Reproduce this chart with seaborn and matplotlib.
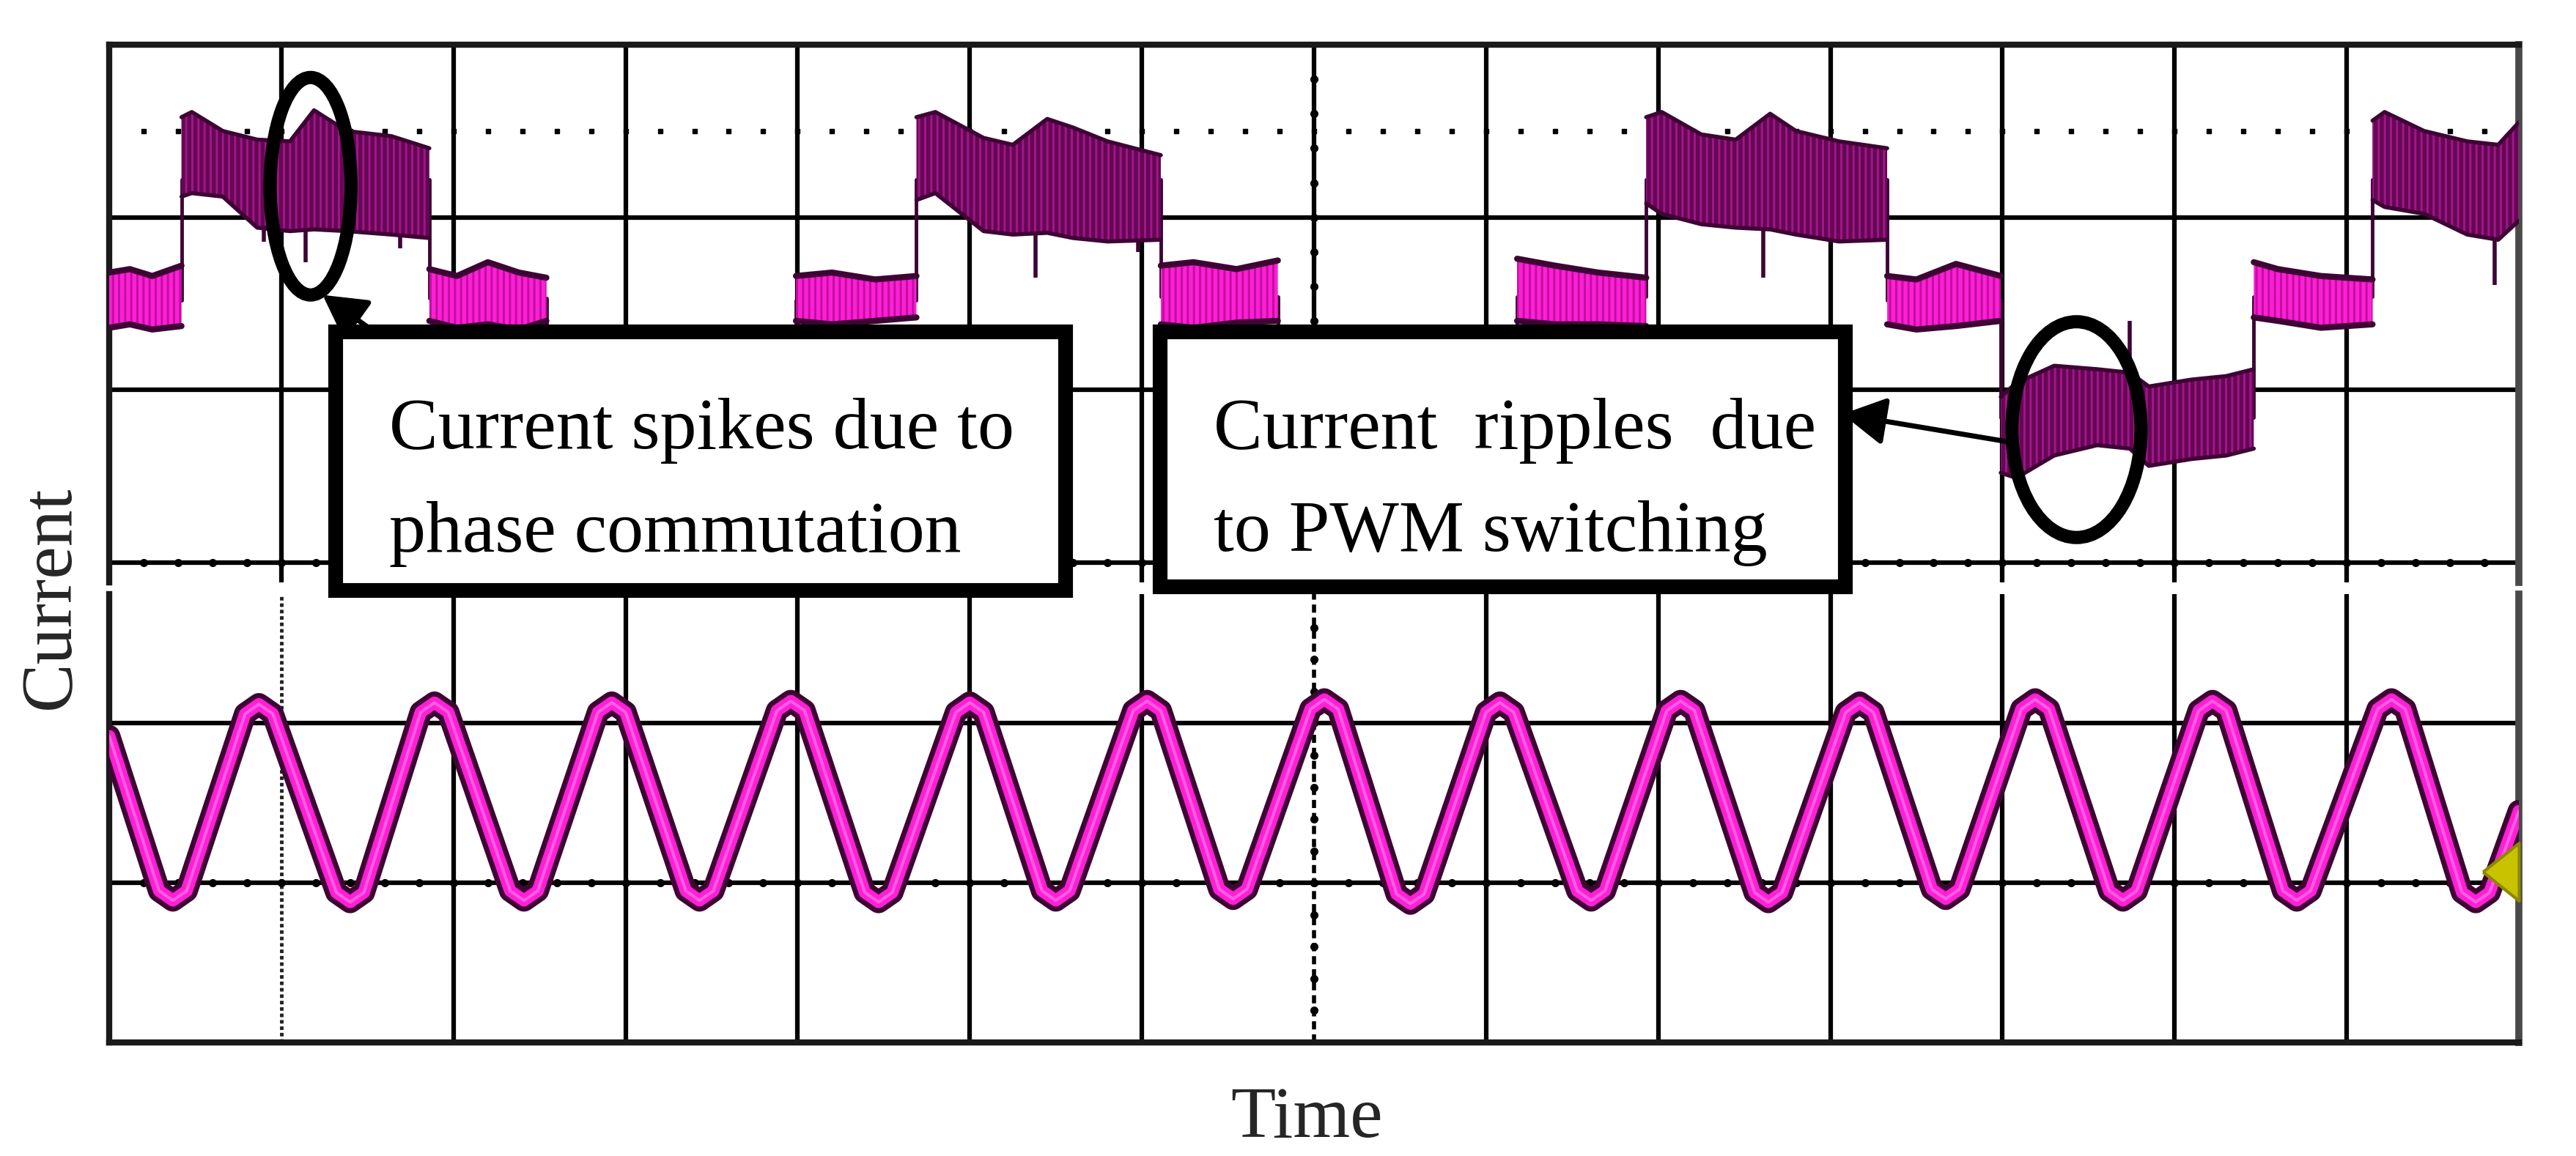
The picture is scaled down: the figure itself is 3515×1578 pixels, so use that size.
import numpy as np
import pandas as pd
import seaborn as sns
import matplotlib.pyplot as plt
from matplotlib.patches import Ellipse, Rectangle

# upper channel: six-step phase current, one entry per flat segment
seg_kind = ['mid', 'high', 'mid', 'low', 'mid', 'high', 'mid',
            'low', 'mid', 'high', 'mid', 'low', 'mid', 'high']
seg_level = [1.52, 2.22, 1.53, 0.83, 1.52, 2.22, 1.54,
             0.83, 1.54, 2.22, 1.52, 0.84, 1.54, 2.22]
seg_x = [
    [0.00, 0.12, 0.25, 0.42],
    [0.42, 0.48, 0.66, 0.86, 1.05, 1.19, 1.38, 1.64, 1.86],
    [1.86, 2.02, 2.20, 2.38, 2.54],
    [2.54, 3.25, 3.99],
    [3.99, 4.20, 4.45, 4.69],
    [4.69, 4.80, 5.08, 5.25, 5.45, 5.60, 5.80, 6.11],
    [6.11, 6.30, 6.55, 6.79],
    [6.79, 7.50, 8.18],
    [8.18, 8.40, 8.65, 8.93],
    [8.93, 9.02, 9.25, 9.45, 9.65, 9.80, 10.05, 10.33],
    [10.33, 10.50, 10.73, 10.99],
    [10.99, 11.08, 11.30, 11.55, 11.74, 11.85, 12.10, 12.30, 12.46],
    [12.46, 12.60, 12.85, 13.15],
    [13.15, 13.22, 13.45, 13.70, 13.88, 14.00],
]
seg_upper = [
    [1.68, 1.70, 1.66, 1.72],
    [2.58, 2.61, 2.50, 2.45, 2.44, 2.62, 2.50, 2.47, 2.40],
    [1.70, 1.66, 1.74, 1.68, 1.65],
    [1.10, 1.05, 1.02],
    [1.66, 1.68, 1.64, 1.66],
    [2.58, 2.61, 2.46, 2.42, 2.57, 2.52, 2.44, 2.36],
    [1.72, 1.74, 1.70, 1.75],
    [1.10, 1.05, 1.02],
    [1.76, 1.72, 1.68, 1.65],
    [2.58, 2.61, 2.48, 2.45, 2.60, 2.50, 2.44, 2.40],
    [1.66, 1.64, 1.73, 1.66],
    [0.96, 1.04, 1.14, 1.12, 1.10, 1.02, 1.06, 1.08, 1.12],
    [1.74, 1.70, 1.66, 1.64],
    [2.56, 2.61, 2.50, 2.44, 2.42, 2.55],
]
seg_lower = [
    [1.36, 1.38, 1.35, 1.37],
    [2.12, 2.14, 2.12, 1.94, 1.92, 1.93, 1.92, 1.90, 1.88],
    [1.40, 1.36, 1.38, 1.35, 1.40],
    [0.55, 0.60, 0.58],
    [1.40, 1.38, 1.40, 1.42],
    [2.10, 2.14, 1.92, 1.90, 1.91, 1.88, 1.86, 1.87],
    [1.38, 1.36, 1.39, 1.40],
    [0.55, 0.60, 0.58],
    [1.40, 1.38, 1.38, 1.37],
    [2.08, 2.02, 1.96, 1.94, 1.93, 1.90, 1.86, 1.87],
    [1.38, 1.35, 1.37, 1.40],
    [0.52, 0.49, 0.62, 0.68, 0.66, 0.56, 0.60, 0.62, 0.66],
    [1.42, 1.40, 1.36, 1.38],
    [2.10, 2.06, 2.02, 1.90, 1.87, 1.98],
]

# commutation spikes (x, start of spike, tip of spike)
spike_x = [0.90, 1.14, 1.69, 5.38, 5.98, 9.61, 11.74, 13.86]
spike_from = [1.95, 1.94, 1.90, 1.91, 1.87, 1.92, 1.10, 1.87]
spike_to = [1.86, 1.74, 1.82, 1.65, 1.80, 1.65, 1.40, 1.61]

# lower channel: sinusoidal current (troughs / peaks with their shoulders)
wave_x = [0.00,
          0.29, 0.37, 0.45, 0.79, 0.87, 0.95,
          1.32, 1.40, 1.48, 1.81, 1.89, 1.97,
          2.33, 2.41, 2.49, 2.84, 2.92, 3.00,
          3.35, 3.43, 3.51, 3.88, 3.96, 4.04,
          4.39, 4.47, 4.55, 4.92, 5.00, 5.08,
          5.42, 5.50, 5.58, 5.95, 6.03, 6.11,
          6.45, 6.53, 6.61, 6.98, 7.06, 7.14,
          7.48, 7.56, 7.64, 8.00, 8.08, 8.16,
          8.53, 8.61, 8.69, 9.05, 9.13, 9.21,
          9.56, 9.64, 9.72, 10.09, 10.17, 10.25,
          10.59, 10.67, 10.75, 11.11, 11.19, 11.27,
          11.62, 11.70, 11.78, 12.14, 12.22, 12.30,
          12.63, 12.71, 12.79, 13.18, 13.26, 13.34,
          13.67, 13.75, 13.83, 14.00]
wave_y = [1.92,
          0.95, 0.89, 0.95, 2.06, 2.12, 2.06,
          0.94, 0.88, 0.94, 2.07, 2.13, 2.07,
          0.95, 0.89, 0.95, 2.07, 2.13, 2.07,
          0.95, 0.89, 0.95, 2.08, 2.14, 2.08,
          0.94, 0.88, 0.94, 2.07, 2.13, 2.07,
          0.95, 0.89, 0.95, 2.08, 2.14, 2.08,
          0.96, 0.90, 0.96, 2.09, 2.15, 2.09,
          0.93, 0.87, 0.93, 2.07, 2.13, 2.07,
          0.95, 0.89, 0.95, 2.08, 2.14, 2.08,
          0.94, 0.88, 0.94, 2.07, 2.13, 2.07,
          0.96, 0.90, 0.96, 2.09, 2.15, 2.09,
          0.95, 0.89, 0.95, 2.08, 2.14, 2.08,
          0.95, 0.89, 0.95, 2.09, 2.15, 2.09,
          0.94, 0.88, 0.94, 1.45]

# ground reference marker of the lower channel
ref_level = 1.07

# ---- styling ----
DARK = '#3e0534'
PLUM = '#620952'
STREAK = '#a3138a'
MAG = '#ff1fd6'
MAG_DARK = '#c0109f'

sns.set_theme(style="white")
plt.rcParams['font.family'] = ['Liberation Serif', 'DejaVu Serif']
plt.rcParams['hatch.linewidth'] = 2.2

W, H = 3515, 1578
fig = plt.figure(figsize=(W / 100, H / 100), dpi=100)
fig.patch.set_facecolor('white')


def frac(x0, y0, x1, y1):
    # pixel box (top-left origin) -> figure fraction rect
    return [x0 / W, 1 - y1 / H, (x1 - x0) / W, (y1 - y0) / H]


ax_top = fig.add_axes(frac(149, 61, 3437, 795))
ax_bot = fig.add_axes(frac(149, 811, 3437, 1423))
ax_top.set_xlim(0, 14)
ax_top.set_ylim(-0.115, 3)
ax_bot.set_xlim(0, 14)
ax_bot.set_ylim(0, 2.81)

for ax in (ax_top, ax_bot):
    ax.set_xticks([])
    ax.set_yticks([])
    ax.set_facecolor('white')
    for side in ('left', 'right', 'top', 'bottom'):
        ax.spines[side].set_color('#1a1a1a')
        ax.spines[side].set_linewidth(6)
    ax.spines['right'].set_color('#4a4a4a')
    ax.spines['right'].set_linewidth(7)
ax_top.spines['bottom'].set_visible(False)
ax_bot.spines['top'].set_visible(False)

# graticule
grid_kw = dict(color='black', lw=4.5, zorder=1)
minor = np.arange(0.2, 14.0, 0.2)
for x in range(1, 14):
    ax_top.axvline(x, **grid_kw)
    if x == 1:
        ax_bot.axvline(x, color='#222222', lw=3.5, ls=(0, (1, 0.8)), zorder=1)
    elif x == 7:
        ax_bot.axvline(x, color='black', lw=4, ls=(0, (2, 1.2)), zorder=1)
    else:
        ax_bot.axvline(x, **grid_kw)
for y in (0, 1, 2):
    ax_top.axhline(y, **grid_kw)
for y in (1, 2):
    ax_bot.axhline(y, **grid_kw)

ax_top.plot(minor, np.zeros_like(minor), 'o', ms=7, color='black', zorder=1.5)
ax_bot.plot(minor, np.ones_like(minor), 'o', ms=7, color='black', zorder=1.5)
ax_top.plot(minor, np.full_like(minor, 2.5), 's', ms=5, color='black', zorder=1.5)
ax_top.plot(np.full(14, 7.0), np.arange(0.2, 2.9, 0.2), 'o', ms=7, color='black', zorder=1.5)
ax_bot.plot(np.full(13, 7.0), np.arange(0.2, 2.7, 0.2), 'o', ms=7, color='black', zorder=1.5)

# ---- upper channel trace ----
cx, cy = [], []
for xs, lev in zip(seg_x, seg_level):
    cx += [xs[0], xs[-1]]
    cy += [lev, lev]
sns.lineplot(x=cx, y=cy, ax=ax_top, color=DARK, lw=3.5,
             estimator=None, sort=False, zorder=2.9)

for xs, up, lo, kind in zip(seg_x, seg_upper, seg_lower, seg_kind):
    if kind == 'mid':
        ax_top.fill_between(xs, lo, up, facecolor=MAG, edgecolor='none', zorder=3)
        ax_top.fill_between(xs, lo, up, facecolor='none', edgecolor=MAG_DARK,
                            hatch='||', linewidth=0, zorder=3.1)
        edge_lw = 6
    else:
        ax_top.fill_between(xs, lo, up, facecolor=PLUM, edgecolor='none', zorder=3)
        ax_top.fill_between(xs, lo, up, facecolor='none', edgecolor=STREAK,
                            hatch='||', linewidth=0, zorder=3.1)
        edge_lw = 4
    for edge in (up, lo):
        sns.lineplot(x=xs, y=edge, ax=ax_top, color=DARK, lw=edge_lw,
                     estimator=None, sort=False, zorder=3.2)

ax_top.vlines(spike_x, spike_from, spike_to, color=DARK, lw=4, zorder=3.3)

# ---- lower channel trace ----
sns.lineplot(x=wave_x, y=wave_y, ax=ax_bot, color=DARK, lw=22,
             estimator=None, sort=False, zorder=3, solid_joinstyle='round')
sns.lineplot(x=wave_x, y=wave_y, ax=ax_bot, color=MAG, lw=12,
             estimator=None, sort=False, zorder=3.1, solid_joinstyle='round')
sns.lineplot(x=wave_x, y=wave_y, ax=ax_bot, color='#ff5ce3', lw=3,
             estimator=None, sort=False, zorder=3.2, solid_joinstyle='round')
# left-pointing triangle whose base sits on the right edge
tri = [(-1.0, 0.0), (0.0, -0.8), (0.0, 0.8), (-1.0, 0.0)]
ax_bot.plot(14, ref_level, marker=tri, ms=71, mfc='#c8c200', mec='#8c8800',
            mew=3, clip_on=False, zorder=4)

# ---- annotations ----
ax_top.add_patch(Ellipse((1.17, 2.18), 0.47, 1.26, fill=False, lw=13,
                         ec='black', zorder=6))
ax_top.add_patch(Ellipse((11.43, 0.77), 0.75, 1.25, fill=False, lw=13,
                         ec='black', zorder=6))
arrow_kw = dict(arrowstyle='-|>,head_length=0.9,head_width=0.5', lw=5,
                color='black', mutation_scale=40, shrinkA=0, shrinkB=0)
ax_top.annotate('', xy=(1.24, 1.55), xytext=(1.55, 1.33),
                arrowprops=arrow_kw, zorder=6)
ax_top.annotate('', xy=(10.07, 0.86), xytext=(11.03, 0.70),
                arrowprops=arrow_kw, zorder=6)

for x0, y0, x1, y1 in [(458, 453, 1454, 806), (1583, 453, 2518, 801)]:
    box = Rectangle((x0 / W, 1 - y1 / H), (x1 - x0) / W, (y1 - y0) / H,
                    transform=fig.transFigure, facecolor='white',
                    edgecolor='black', lw=14.5, joinstyle='miter', zorder=10)
    fig.add_artist(box)

txt_kw = dict(fontsize=72, color='black', ha='left', va='baseline', zorder=11)
fig.text(531 / W, 1 - 612 / H, 'Current spikes due to', **txt_kw)
fig.text(531 / W, 1 - 753 / H, 'phase commutation', **txt_kw)
fig.text(1656 / W, 1 - 612 / H, 'Current  ripples  due', **txt_kw)
fig.text(1656 / W, 1 - 752 / H, 'to PWM switching', **txt_kw)

fig.text(70 / W, 1 - 815 / H, 'Current', fontsize=72, rotation=90,
         ha='center', va='center')
fig.text(1783 / W, 1 - 1552 / H, 'Time', fontsize=72, ha='center', va='baseline')

fig.savefig('out.png', dpi=100, facecolor='white')
